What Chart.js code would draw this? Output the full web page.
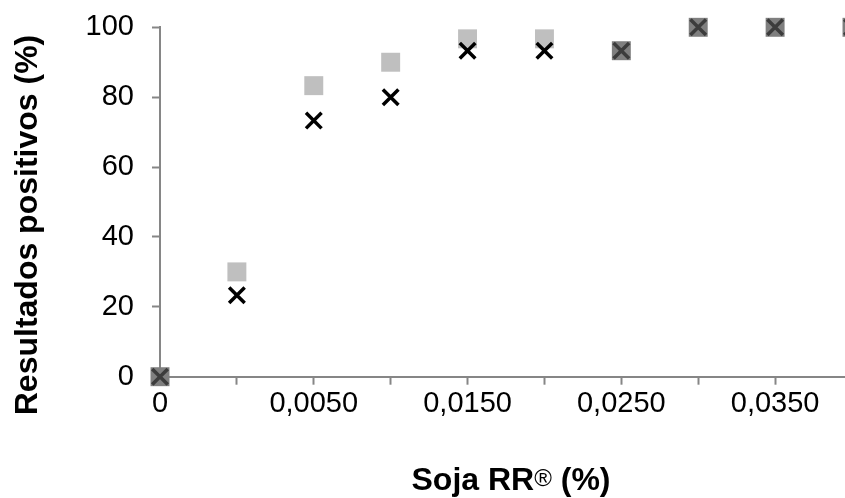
<!DOCTYPE html>
<html>
<head>
<meta charset="utf-8">
<script src="https://cdn.jsdelivr.net/npm/chart.js@4/dist/chart.umd.min.js"></script>
<style>
    html, body { margin: 0; padding: 0; overflow: hidden; background: #fff; }
</style>
</head>
<body>
<canvas id="sojaChart" width="900" height="498"></canvas>
<script>
// Soja RR concentration (categories) and % positive results per method
const categories = ['0', '0,0025', '0,0050', '0,0100', '0,0150', '0,0200', '0,0250', '0,0300', '0,0350', '0,0400'];
const squareValues = [0, 30, 83.3, 90, 96.7, 96.7, 93.3, 100, 100, 100];
const crossValues = [0, 23.3, 73.3, 80, 93.3, 93.3, 93.3, 100, 100, 100];
const yTicks = [0, 20, 40, 60, 80, 100];

const FONT = '"Liberation Sans", Arial, sans-serif';
const AXIS_GRAY = '#868686';

// points where both series coincide are drawn darker
function sameValue(i) {
    return squareValues[i] === crossValues[i];
}

// axis titles drawn by hand (superscript ® and off-centre placement)
const axisTitles = {
    id: 'axisTitles',
    afterDraw(chart) {
        const ctx = chart.ctx;
        ctx.save();
        ctx.fillStyle = '#000';
        ctx.textBaseline = 'alphabetic';

        // y title
        ctx.save();
        ctx.translate(36.5, 225);
        ctx.rotate(-Math.PI / 2);
        ctx.textAlign = 'center';
        ctx.font = 'bold 32px ' + FONT;
        ctx.fillText('Resultados positivos (%)', 0, 0);
        ctx.restore();

        // x title
        const baseY = 490;
        ctx.textAlign = 'left';
        ctx.font = 'bold 32px ' + FONT;
        const partA = 'Soja RR';
        const partC = ' (%)';
        const wA = ctx.measureText(partA).width;
        const wC = ctx.measureText(partC).width;
        ctx.font = '24px ' + FONT;
        const wB = ctx.measureText('®').width;
        let x = 511 - (wA + wB + wC) / 2;
        ctx.font = 'bold 32px ' + FONT;
        ctx.fillText(partA, x, baseY);
        x += wA;
        ctx.font = '24px ' + FONT;
        ctx.fillText('®', x, baseY - 4);
        x += wB;
        ctx.font = 'bold 32px ' + FONT;
        ctx.fillText(partC, x, baseY);
        ctx.restore();
    }
};

function initChart() {
    const ctx = document.getElementById('sojaChart');
    if (!ctx) return;

    new Chart(ctx, {
        type: 'line',
        data: {
            labels: categories,
            datasets: [{
                label: 'Série 2',
                data: crossValues,
                order: 0,
                showLine: false,
                clip: false,
                pointStyle: 'crossRot',
                pointRadius: 11,
                pointBorderWidth: 3.5,
                pointBorderColor: c => sameValue(c.dataIndex) ? '#3c3c3c' : '#000000',
                pointBackgroundColor: 'rgba(0,0,0,0)'
            }, {
                label: 'Série 1',
                data: squareValues,
                order: 1,
                showLine: false,
                clip: false,
                pointStyle: 'rect',
                pointRadius: 13.4,
                pointBorderWidth: 0,
                pointBackgroundColor: c => sameValue(c.dataIndex) ? '#7f7f7f' : '#bfbfbf'
            }]
        },
        options: {
            responsive: false,
            animation: false,
            events: [],
            layout: {
                padding: { left: 0, top: 27.3, right: 48, bottom: 0 }
            },
            plugins: {
                legend: { display: false },
                tooltip: { enabled: false },
                title: { display: false }
            },
            scales: {
                x: {
                    type: 'category',
                    offset: false,
                    border: { color: AXIS_GRAY, width: 2 },
                    grid: {
                        drawOnChartArea: false,
                        drawTicks: true,
                        tickLength: 8,
                        tickColor: AXIS_GRAY,
                        tickWidth: 2
                    },
                    ticks: {
                        autoSkip: false,
                        maxRotation: 0,
                        padding: 2,
                        color: '#000',
                        font: { family: FONT, size: 29 },
                        callback: (val, i) => i % 2 === 0 ? categories[i] : ''
                    },
                    afterFit: scale => {
                        scale.height = 121.3;
                        scale.paddingLeft = 0;
                        scale.paddingRight = 0;
                    }
                },
                y: {
                    min: 0,
                    max: 100,
                    border: { color: AXIS_GRAY, width: 2 },
                    grid: {
                        drawOnChartArea: false,
                        drawTicks: true,
                        tickLength: 8,
                        tickColor: AXIS_GRAY,
                        tickWidth: 2
                    },
                    afterBuildTicks: scale => {
                        scale.ticks = yTicks.map(v => ({ value: v }));
                    },
                    ticks: {
                        padding: 18,
                        color: '#000',
                        font: { family: FONT, size: 29 }
                    },
                    afterFit: scale => {
                        scale.width = 160;
                        scale.paddingTop = 0;
                        scale.paddingBottom = 0;
                    }
                }
            }
        },
        plugins: [axisTitles]
    });
}

document.addEventListener('DOMContentLoaded', initChart);
</script>
</body>
</html>
